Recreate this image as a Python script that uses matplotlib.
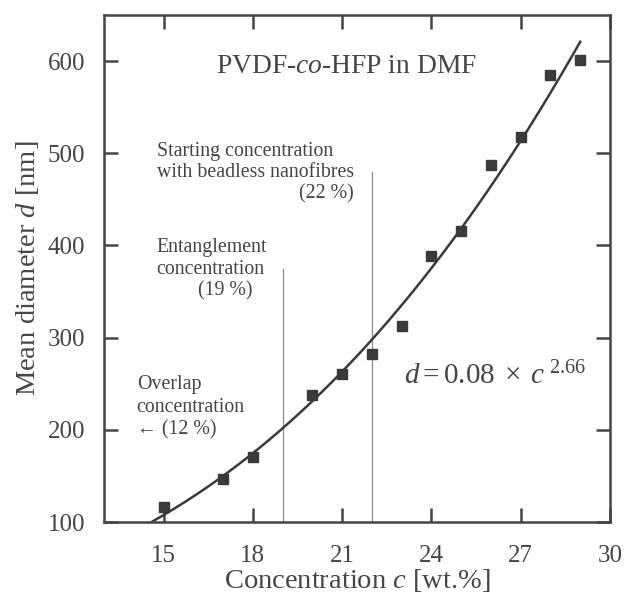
import numpy as np
import matplotlib
matplotlib.use("Agg")
import matplotlib.pyplot as plt

# -----------------------------
# Input data
# -----------------------------

conc = [15, 17, 18, 20, 21, 22, 23, 24, 25, 26, 27, 28, 29]
diameter = [116, 147, 171, 238, 261, 282, 313, 389, 416, 487, 518, 585, 601]

# power-law fit d = a * c^b (from the label)
fit_a = 0.08
fit_b = 2.66
fit_range = [14.63, 29.0]

# marked concentrations and how high their lines go
mark_conc = [19, 22]
mark_top = [375, 480]

x_ticks = [15, 18, 21, 24, 27, 30]
y_ticks = [100, 200, 300, 400, 500, 600]

ink = "#3a3a3a"
txt = "#454545"

plt.rcParams["font.family"] = ["Liberation Serif", "DejaVu Serif"]
plt.rcParams["mathtext.fontset"] = "custom"
plt.rcParams["mathtext.rm"] = "Liberation Serif"
plt.rcParams["mathtext.it"] = "Liberation Serif:italic"

fig = plt.figure(figsize=(6.25, 5.99), dpi=100)
ax = fig.add_axes([0.1664, 0.1285, 0.8096, 0.8465])

# vertical marker lines
for xc, top in zip(mark_conc, mark_top):
    ax.plot([xc, xc], [100, top], color="#8a8a8a", lw=0.9, zorder=1)

# fit curve
cc = np.linspace(fit_range[0], fit_range[1], 200)
ax.plot(cc, fit_a * cc ** fit_b, color=ink, lw=1.8, zorder=2)

# measured points
ax.plot(conc, diameter, ls="none", marker="s", ms=6.5, color=ink, zorder=3)

ax.set_xlim(13, 30)
ax.set_ylim(100, 650)
ax.set_xticks(x_ticks)
ax.set_yticks(y_ticks)

for s in ax.spines.values():
    s.set_color("#444444")
    s.set_linewidth(1.8)
ax.tick_params(direction="in", length=10, width=1.8, color="#444444",
               top=True, right=True, labelsize=18, labelcolor=txt)
ax.tick_params(axis="x", pad=16.5)
ax.tick_params(axis="y", pad=13.5)

ax.set_xlabel(r"Concentration $c$ [wt.%]", fontsize=20.5, color=txt, labelpad=0)
ax.set_ylabel(r"Mean diameter $d$ [nm]", fontsize=20.5, color=txt, labelpad=5)

# annotations
ax.text(16.77, 587, r"PVDF-$\mathit{co}$-HFP in DMF", fontsize=19.8, color=txt, va="baseline")

ax.text(14.77, 497, "Starting concentration", fontsize=14.3, color=txt, va="baseline")
ax.text(14.77, 474, "with beadless nanofibres", fontsize=14.3, color=txt, va="baseline")
ax.text(21.4, 451, "(22 %)", fontsize=14.3, color=txt, va="baseline", ha="right")

ax.text(14.77, 393, "Entanglement", fontsize=14.3, color=txt, va="baseline")
ax.text(14.77, 369, "concentration", fontsize=14.3, color=txt, va="baseline")
ax.text(16.15, 346, "(19 %)", fontsize=14.3, color=txt, va="baseline")

ax.text(14.1, 244, "Overlap", fontsize=14.3, color=txt, va="baseline")
ax.text(14.1, 219, "concentration", fontsize=14.3, color=txt, va="baseline")
ax.text(14.1, 194.5, "\u2190 (12 %)", fontsize=14.3, color=txt, va="baseline")

ax.text(23.07, 249, r"$d = 0.08\;\times\;c^{\;2.66}$", fontsize=21, color=txt, va="baseline")

fig.savefig("out.png", dpi=100)
